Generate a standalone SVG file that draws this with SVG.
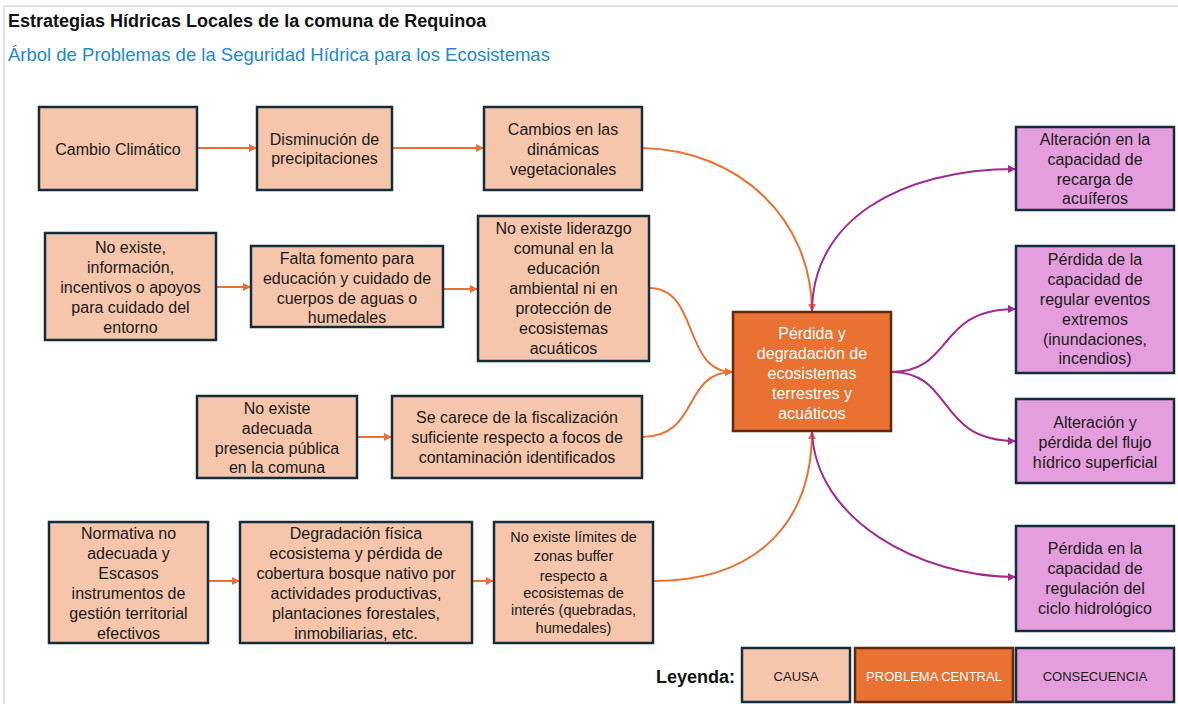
<svg xmlns="http://www.w3.org/2000/svg" width="1178" height="704" viewBox="0 0 1178 704">
<style>
text{font-family:"Liberation Sans",Arial,sans-serif;}
.t{font-size:16px;fill:#1a1a1a;text-anchor:middle;dominant-baseline:central;}
.ts{font-size:14.5px;fill:#1a1a1a;text-anchor:middle;dominant-baseline:central;}
.tw{font-size:16px;fill:#ffffff;text-anchor:middle;dominant-baseline:central;}
.cause{fill:#f6c6ac;stroke:#152c3d;stroke-width:2.5;}
.central{fill:#e97132;stroke:#5e2b0e;stroke-width:2.5;}
.cons{fill:#e59edd;stroke:#152c3d;stroke-width:2.5;}
.oc{fill:none;stroke:#e97132;stroke-width:2;}
.pc{fill:none;stroke:#a02b93;stroke-width:2;}
.lg{font-size:13px;text-anchor:middle;dominant-baseline:central;}
</style>
<defs>
<marker id="ao" viewBox="0 0 10 10" refX="10" refY="5" markerWidth="8" markerHeight="8" markerUnits="userSpaceOnUse" orient="auto"><path d="M0,0 L10,5 L0,10 z" fill="#e97132"/></marker>
<marker id="ap" viewBox="0 0 10 10" refX="10" refY="5" markerWidth="8" markerHeight="8" markerUnits="userSpaceOnUse" orient="auto"><path d="M0,0 L10,5 L0,10 z" fill="#a02b93"/></marker>
</defs>
<rect x="0" y="0" width="1178" height="704" fill="#ffffff"/>
<line x1="4" y1="6" x2="1178" y2="6" stroke="#d9d9d9" stroke-width="1.5"/>
<line x1="4" y1="6" x2="4" y2="704" stroke="#d9d9d9" stroke-width="1.5"/>
<text x="8" y="27" font-size="18" font-weight="bold" fill="#111">Estrategias Hídricas Locales de la comuna de Requinoa</text>
<text x="8" y="61" font-size="18.5" fill="#2189d0">Árbol de Problemas de la Seguridad Hídrica para los Ecosistemas</text>

<g id="connectors">
<path class="oc" d="M197,148 L257,148" marker-end="url(#ao)"/>
<path class="oc" d="M392,148 L484,148" marker-end="url(#ao)"/>
<path class="oc" d="M216,287 L251,287" marker-end="url(#ao)"/>
<path class="oc" d="M443,289 L478,289" marker-end="url(#ao)"/>
<path class="oc" d="M357,437 L392,437" marker-end="url(#ao)"/>
<path class="oc" d="M208,581 L240,581" marker-end="url(#ao)"/>
<path class="oc" d="M472,581 L494,581" marker-end="url(#ao)"/>
<path class="oc" d="M642,148 C740,150 812,220 812,312" marker-end="url(#ao)"/>
<path class="oc" d="M649,288 C700,288 682,372 733,372" marker-end="url(#ao)"/>
<path class="oc" d="M642,437 C700,437 682,372 733,372" marker-end="url(#ao)"/>
<path class="oc" d="M653,581 C760,581 812,520 812,431" marker-end="url(#ao)"/>
<path class="pc" d="M812,312 C812,220 900,169 1016,169" marker-end="url(#ap)"/>
<path class="pc" d="M891,372 C955,372 935,309 1016,309" marker-end="url(#ap)"/>
<path class="pc" d="M891,372 C955,372 935,441 1016,441" marker-end="url(#ap)"/>
<path class="pc" d="M812,431 C815,520 920,577 1016,577" marker-end="url(#ap)"/>
</g>

<g id="n1"><rect class="cause" x="39" y="107" width="158" height="83"/>
<text class="t" x="118" y="149">Cambio Climático</text></g>
<g id="n2"><rect class="cause" x="257" y="107" width="135" height="83"/>
<text class="t" x="324.5" y="139">Disminución de</text><text class="t" x="324.5" y="158">precipitaciones</text></g>
<g id="n3"><rect class="cause" x="484" y="107" width="158" height="83"/>
<text class="t" x="563" y="129">Cambios en las</text><text class="t" x="563" y="149">dinámicas</text><text class="t" x="563" y="169">vegetacionales</text></g>

<g id="n4"><rect class="cause" x="45" y="233" width="171" height="107"/>
<text class="t" x="130.5" y="247">No existe,</text><text class="t" x="130.5" y="267">información,</text><text class="t" x="130.5" y="287">incentivos o apoyos</text><text class="t" x="130.5" y="307">para cuidado del</text><text class="t" x="130.5" y="327">entorno</text></g>
<g id="n5"><rect class="cause" x="251" y="246" width="192" height="81"/>
<text class="t" x="347" y="258">Falta fomento para</text><text class="t" x="347" y="278">educación y cuidado de</text><text class="t" x="347" y="298">cuerpos de aguas o</text><text class="t" x="347" y="317">humedales</text></g>
<g id="n6"><rect class="cause" x="478" y="216" width="171" height="145"/>
<text class="t" x="563.5" y="228">No existe liderazgo</text><text class="t" x="563.5" y="248">comunal en la</text><text class="t" x="563.5" y="268">educación</text><text class="t" x="563.5" y="288">ambiental ni en</text><text class="t" x="563.5" y="308">protección de</text><text class="t" x="563.5" y="328">ecosistemas</text><text class="t" x="563.5" y="348">acuáticos</text></g>

<g id="n7"><rect class="cause" x="197" y="396" width="160" height="82"/>
<text class="t" x="277" y="408">No existe</text><text class="t" x="277" y="428">adecuada</text><text class="t" x="277" y="448">presencia pública</text><text class="t" x="277" y="467">en la comuna</text></g>
<g id="n8"><rect class="cause" x="392" y="396" width="250" height="82"/>
<text class="t" x="517" y="417">Se carece de la fiscalización</text><text class="t" x="517" y="437">suficiente respecto a focos de</text><text class="t" x="517" y="457">contaminación identificados</text></g>

<g id="n9"><rect class="cause" x="49" y="522" width="159" height="121"/>
<text class="t" x="128.5" y="533">Normativa no</text><text class="t" x="128.5" y="553">adecuada y</text><text class="t" x="128.5" y="573">Escasos</text><text class="t" x="128.5" y="593">instrumentos de</text><text class="t" x="128.5" y="613">gestión territorial</text><text class="t" x="128.5" y="633">efectivos</text></g>
<g id="n10"><rect class="cause" x="240" y="522" width="232" height="121"/>
<text class="t" x="356" y="533">Degradación física</text><text class="t" x="356" y="553">ecosistema y pérdida de</text><text class="t" x="356" y="573">cobertura bosque nativo por</text><text class="t" x="356" y="593">actividades productivas,</text><text class="t" x="356" y="613">plantaciones forestales,</text><text class="t" x="356" y="633">inmobiliarias, etc.</text></g>
<g id="n11"><rect class="cause" x="494" y="522" width="159" height="121"/>
<text class="ts" x="573.5" y="537">No existe límites de</text><text class="ts" x="573.5" y="556">zonas buffer</text><text class="ts" x="573.5" y="576">respecto a</text><text class="ts" x="573.5" y="593">ecosistemas de</text><text class="ts" x="573.5" y="610">interés (quebradas,</text><text class="ts" x="573.5" y="628">humedales)</text></g>

<g id="center"><rect class="central" x="733" y="312" width="158" height="119"/>
<text class="tw" x="812" y="333">Pérdida y</text><text class="tw" x="812" y="353">degradación de</text><text class="tw" x="812" y="373">ecosistemas</text><text class="tw" x="812" y="393">terrestres y</text><text class="tw" x="812" y="413">acuáticos</text></g>

<g id="c1"><rect class="cons" x="1016" y="127" width="158" height="83"/>
<text class="t" x="1095" y="139">Alteración en la</text><text class="t" x="1095" y="159">capacidad de</text><text class="t" x="1095" y="179">recarga de</text><text class="t" x="1095" y="198">acuíferos</text></g>
<g id="c2"><rect class="cons" x="1016" y="246" width="158" height="127"/>
<text class="t" x="1095" y="259">Pérdida de la</text><text class="t" x="1095" y="279">capacidad de</text><text class="t" x="1095" y="299">regular eventos</text><text class="t" x="1095" y="319">extremos</text><text class="t" x="1095" y="339">(inundaciones,</text><text class="t" x="1095" y="358">incendios)</text></g>
<g id="c3"><rect class="cons" x="1016" y="399" width="158" height="84"/>
<text class="t" x="1095" y="422">Alteración y</text><text class="t" x="1095" y="442">pérdida del flujo</text><text class="t" x="1095" y="462">hídrico superficial</text></g>
<g id="c4"><rect class="cons" x="1016" y="526" width="158" height="105"/>
<text class="t" x="1095" y="548">Pérdida en la</text><text class="t" x="1095" y="568">capacidad de</text><text class="t" x="1095" y="588">regulación del</text><text class="t" x="1095" y="608">ciclo hidrológico</text></g>

<g id="legend">
<text x="656" y="683" font-size="18" font-weight="bold" fill="#111">Leyenda:</text>
<rect class="cause" x="742" y="648" width="108" height="54"/>
<text class="lg" x="796" y="676" fill="#1a1a1a">CAUSA</text>
<rect class="central" x="855" y="648" width="158" height="54"/>
<text class="lg" x="934" y="676" fill="#ffffff">PROBLEMA CENTRAL</text>
<rect class="cons" x="1016" y="648" width="158" height="54"/>
<text class="lg" x="1095" y="676" fill="#1a1a1a">CONSECUENCIA</text>
</g>
</svg>
